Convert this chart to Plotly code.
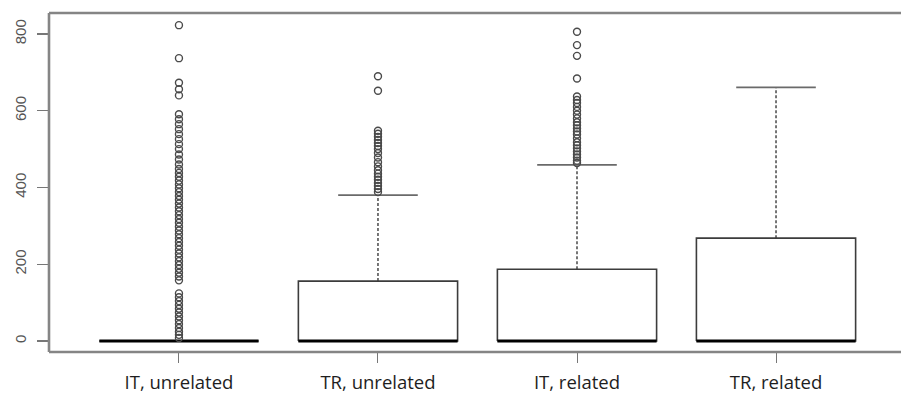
import plotly.graph_objects as go

categories = ["IT, unrelated", "TR, unrelated", "IT, related", "TR, related"]
positions = [1, 2, 3, 4]
q1 = [0, 0, 0, 0]
medians = [0, 0, 0, 0]
q3 = [0, 156, 187, 268]
upper_whisker = [0, 380, 459, 661]
lower_whisker = [0, 0, 0, 0]

outliers_it_unrel = [823, 737, 673, 656, 640, 591, 578, 565, 552, 539, 526, 513, 500,
                     486, 473, 460, 448, 438, 428, 418, 408, 398, 388, 378, 368, 358,
                     348, 338, 328, 318, 308, 298, 288, 278, 268, 258, 248, 238, 228,
                     218, 208, 198, 188, 178, 168, 158, 124, 114, 104, 94, 84, 74, 64,
                     54, 44, 34, 24, 16, 8]
outliers_tr_unrel = [690, 652, 548, 540, 532, 524, 516, 508, 500, 490, 478, 466, 455,
                     445, 436, 428, 420, 412, 404, 396, 388]
outliers_it_rel = [806, 771, 743, 684, 637, 628, 620, 610, 600, 590, 580, 570, 562,
                   554, 546, 538, 528, 518, 510, 502, 494, 486, 478, 470, 464]
outliers_tr_rel = []
outliers = [outliers_it_unrel, outliers_tr_unrel, outliers_it_rel, outliers_tr_rel]

box_half = 0.4
cap_half = 0.2
box_line = "#3c3c3c"
frame_col = "#858585"

fig = go.Figure()

for i, p in enumerate(positions):
    fig.add_trace(go.Scatter(
        x=[p - box_half, p + box_half, p + box_half, p - box_half, p - box_half],
        y=[q1[i], q1[i], q3[i], q3[i], q1[i]],
        mode="lines", fill="toself", fillcolor="white",
        line=dict(color=box_line, width=1.6),
        showlegend=False, hoverinfo="skip"))
    if upper_whisker[i] > q3[i]:
        fig.add_trace(go.Scatter(
            x=[p, p], y=[q3[i], upper_whisker[i]], mode="lines",
            line=dict(color=box_line, width=1.4, dash="3px,2px"),
            showlegend=False, hoverinfo="skip"))
        fig.add_trace(go.Scatter(
            x=[p - cap_half, p + cap_half], y=[upper_whisker[i], upper_whisker[i]],
            mode="lines", line=dict(color="#6a6a6a", width=1.8),
            showlegend=False, hoverinfo="skip"))
    fig.add_trace(go.Scatter(
        x=[p - box_half, p + box_half], y=[medians[i], medians[i]], mode="lines",
        line=dict(color="black", width=3.2),
        showlegend=False, hoverinfo="skip"))
    if outliers[i]:
        fig.add_trace(go.Scatter(
            x=[p] * len(outliers[i]), y=outliers[i], mode="markers",
            marker=dict(symbol="circle-open", size=7, color="#4a4a4a",
                        line=dict(width=1.4, color="#4a4a4a")),
            showlegend=False, hoverinfo="skip"))

frame = dict(color=frame_col, width=2.6)
fig.update_layout(
    width=901, height=399,
    margin=dict(l=49, r=0, t=13, b=47, autoexpand=False),
    paper_bgcolor="white", plot_bgcolor="white",
    xaxis=dict(
        range=[0.347, 4.628], tickmode="array", tickvals=positions, ticktext=categories,
        showgrid=False, zeroline=False, showline=False, automargin=False,
        ticks="outside", ticklen=10, tickwidth=1, tickcolor="#777777",
        ticklabelstandoff=4,
        tickfont=dict(family="Open Sans", size=18.5, color="#1e1e1e"),
    ),
    yaxis=dict(
        range=[-28.7, 854.7], tickmode="array", tickvals=[0, 200, 400, 600, 800],
        showgrid=False, zeroline=False, showline=False, automargin=False,
        ticks="outside", ticklen=11, tickwidth=1.2, tickcolor="#777777",
        tickangle=-90, ticklabelstandoff=5,
        tickfont=dict(family="Liberation Sans", size=15, color="#555555"),
    ),
    shapes=[
        dict(type="line", xref="paper", yref="paper", x0=0, x1=1, y0=1, y1=1,
             line=frame, layer="above"),
        dict(type="line", xref="paper", yref="paper", x0=0, x1=1, y0=0, y1=0,
             line=frame, layer="above"),
        dict(type="line", xref="paper", yref="paper", x0=0, x1=0, y0=0, y1=1,
             line=frame, layer="above"),
    ],
)

fig.write_html(
    "out.html",
    config={"displayModeBar": False, "staticPlot": True},
    post_script=("document.body.style.margin='0px';document.body.style.overflow='hidden';"
                 "document.documentElement.style.overflow='hidden';"),
)
